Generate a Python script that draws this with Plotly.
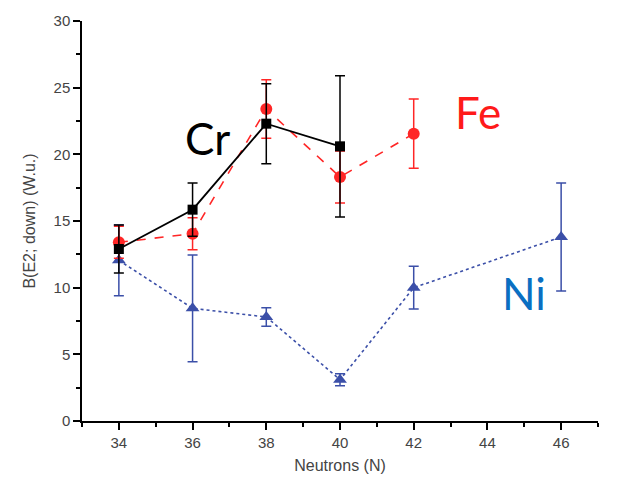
import plotly.graph_objects as go

# Data
cr_n = [34, 36, 38, 40]
cr_b = [12.9, 15.85, 22.3, 20.6]
cr_err = [1.8, 2.0, 3.0, 5.3]

fe_n = [34, 36, 38, 40, 42]
fe_b = [13.4, 14.05, 23.4, 18.3, 21.55]
fe_err = [1.2, 1.2, 2.2, 1.95, 2.6]

ni_n = [34, 36, 38, 40, 42, 46]
ni_b = [12.05, 8.45, 7.8, 3.1, 10.0, 13.8]
ni_err = [2.65, 4.0, 0.7, 0.45, 1.6, 4.05]

x_ticks = [34, 36, 38, 40, 42, 44, 46]
y_ticks = [0, 5, 10, 15, 20, 25, 30]

labels = [("Cr", 36.4, 21.2, "black"), ("Fe", 43.75, 23.2, "#ff1a1a"), ("Ni", 45.0, 9.6, "#0a6fc2")]

fig = go.Figure()

fig.add_trace(go.Scatter(
    x=ni_n, y=ni_b, mode="lines+markers",
    line=dict(color="#3b4fa8", width=1.6, dash="dot"),
    marker=dict(symbol="triangle-up", size=12, color="#3b4fa8"),
    error_y=dict(type="data", array=ni_err, color="#3b4fa8", thickness=1.5, width=5),
))
fig.add_trace(go.Scatter(
    x=fe_n, y=fe_b, mode="lines+markers",
    line=dict(color="#ff2626", width=1.6, dash="dash"),
    marker=dict(symbol="circle", size=12, color="#ff2626"),
    error_y=dict(type="data", array=fe_err, color="#ff2626", thickness=1.5, width=5),
))
fig.add_trace(go.Scatter(
    x=cr_n, y=cr_b, mode="lines+markers",
    line=dict(color="black", width=1.8),
    marker=dict(symbol="square", size=10, color="black"),
    error_y=dict(type="data", array=cr_err, color="black", thickness=1.5, width=5),
))

for txt, x, y, c in labels:
    fig.add_annotation(x=x, y=y, text=txt, showarrow=False,
                       font=dict(family="Comic Sans MS, Lato, sans-serif", size=44, color=c))

axis_common = dict(
    showline=True, linecolor="black", linewidth=1.5, ticks="outside", ticklen=7,
    tickwidth=1.5, tickcolor="black", showgrid=False, zeroline=False, mirror=False,
    tickfont=dict(family="Liberation Sans, Arial", size=15, color="#444"),
    title_font=dict(family="Liberation Sans, Arial", size=16, color="#444"),
)

fig.update_xaxes(range=[33, 47], tickvals=x_ticks, title_text="Neutrons (N)",
                 minor=dict(dtick=1, tick0=33, ticklen=4, tickcolor="black", tickwidth=1.5, ticks="outside"),
                 title_standoff=10,
                 **axis_common)
fig.update_yaxes(range=[0, 30], tickvals=y_ticks, title_text="B(E2; down) (W.u.)",
                 minor=dict(dtick=2.5, tick0=0, ticklen=4, tickcolor="black", tickwidth=1.5, ticks="outside"),
                 title_standoff=14,
                 **axis_common)

fig.update_layout(
    width=640, height=485, showlegend=False,
    margin=dict(l=82, r=42, t=14, b=64),
    plot_bgcolor="white", paper_bgcolor="white",
)

fig.write_html("out.html")
